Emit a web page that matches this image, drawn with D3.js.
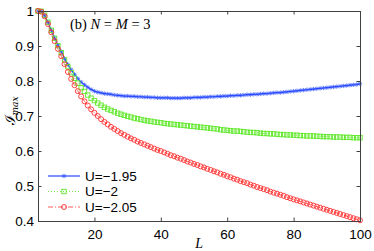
<!DOCTYPE html>
<html>
<head>
<meta charset="utf-8">
<script src="https://cdn.jsdelivr.net/npm/d3@7"></script>
<style>
  html, body { margin: 0; padding: 0; background: #fff; }
  svg { display: block; }
  .tick text { font-family: "Liberation Sans", Arial, sans-serif; font-size: 13.5px; fill: #000; }
</style>
</head>
<body>
<div id="chart"></div>
<script>
// L = 3 .. 100, one point per integer L
const L = d3.range(3, 101);

const u195 = [
  1.000, 0.999, 0.987, 0.968, 0.945, 0.923, 0.903, 0.884,
  0.864, 0.847, 0.832, 0.819, 0.807, 0.797, 0.789, 0.782, 0.776, 0.771,
  0.768, 0.766, 0.764, 0.763, 0.762, 0.760, 0.759, 0.758, 0.757, 0.757,
  0.756, 0.756, 0.755, 0.755, 0.754, 0.754, 0.753, 0.753, 0.752, 0.752,
  0.752, 0.752, 0.751, 0.751, 0.751, 0.751, 0.752, 0.752, 0.752, 0.753,
  0.753, 0.753, 0.754, 0.754, 0.755, 0.755, 0.756, 0.756, 0.757, 0.757,
  0.758, 0.758, 0.759, 0.759, 0.760, 0.761, 0.761, 0.762, 0.762, 0.763,
  0.764, 0.764, 0.765, 0.766, 0.767, 0.767, 0.768, 0.769, 0.770, 0.771,
  0.772, 0.773, 0.774, 0.775, 0.776, 0.777, 0.778, 0.779, 0.780, 0.781,
  0.782, 0.783, 0.784, 0.785, 0.786, 0.787, 0.788, 0.789, 0.790, 0.792
];

const u200 = [
  1.000, 0.999, 0.988, 0.968, 0.945, 0.922, 0.901, 0.881,
  0.860, 0.841, 0.824, 0.808, 0.794, 0.781, 0.770, 0.760, 0.751, 0.744,
  0.737, 0.731, 0.725, 0.720, 0.716, 0.712, 0.708, 0.705, 0.702, 0.699,
  0.697, 0.694, 0.692, 0.690, 0.688, 0.686, 0.685, 0.683, 0.682, 0.681,
  0.679, 0.678, 0.677, 0.676, 0.675, 0.674, 0.673, 0.672, 0.671, 0.670,
  0.669, 0.668, 0.667, 0.666, 0.665, 0.664, 0.663, 0.661, 0.660, 0.659,
  0.658, 0.657, 0.657, 0.656, 0.655, 0.654, 0.653, 0.653, 0.652, 0.651,
  0.650, 0.650, 0.649, 0.649, 0.648, 0.647, 0.647, 0.646, 0.646, 0.645,
  0.645, 0.644, 0.644, 0.643, 0.643, 0.643, 0.642, 0.642, 0.641, 0.641,
  0.641, 0.640, 0.640, 0.640, 0.639, 0.639, 0.639, 0.638, 0.638, 0.638
];

const u205 = [
  1.000, 0.998, 0.985, 0.963, 0.939, 0.914, 0.892, 0.871,
  0.848, 0.826, 0.806, 0.788, 0.771, 0.756, 0.742, 0.730, 0.719, 0.709,
  0.700, 0.691, 0.683, 0.676, 0.669, 0.663, 0.657, 0.651, 0.646, 0.641,
  0.636, 0.632, 0.627, 0.623, 0.619, 0.615, 0.611, 0.607, 0.603, 0.600,
  0.596, 0.592, 0.588, 0.585, 0.581, 0.578, 0.574, 0.570, 0.567, 0.563,
  0.560, 0.556, 0.553, 0.549, 0.546, 0.542, 0.539, 0.535, 0.532, 0.528,
  0.525, 0.521, 0.518, 0.514, 0.511, 0.508, 0.504, 0.501, 0.497, 0.494,
  0.491, 0.488, 0.484, 0.481, 0.478, 0.475, 0.472, 0.468, 0.465, 0.462,
  0.459, 0.456, 0.453, 0.450, 0.447, 0.444, 0.441, 0.438, 0.435, 0.432,
  0.429, 0.426, 0.423, 0.420, 0.417, 0.414, 0.411, 0.408, 0.405, 0.402
];

const xTicks = [20, 40, 60, 80, 100];
const yTicks = [0.4, 0.5, 0.6, 0.7, 0.8, 0.9, 1];
const labels = ['U=\u22121.95', 'U=\u22122', 'U=\u22122.05'];

const width = 374, height = 251;
const margin = { top: 11, right: 14, bottom: 30, left: 38 };

const svg = d3.select('#chart').append('svg')
  .attr('width', width)
  .attr('height', height);

const x = d3.scaleLinear().domain([3, 100]).range([margin.left, width - margin.right]);
const y = d3.scaleLinear().domain([0.4, 1]).range([height - margin.bottom, margin.top]);

const series = [
  { name: labels[0], values: u195, color: '#2a4cff', marker: 'star', dash: null },
  { name: labels[1], values: u200, color: '#5fe82a', marker: 'square', dash: '1,2' },
  { name: labels[2], values: u205, color: '#ff3030', marker: 'circle', dash: '5,2,1,2' }
];

function drawMarker(g, type, color) {
  if (type === 'star') {
    g.append('path')
      .attr('d', 'M-2.2,0H2.2M0,-2.2V2.2M-1.6,-1.6L1.6,1.6M-1.6,1.6L1.6,-1.6')
      .attr('stroke', color).attr('stroke-width', 0.9).attr('opacity', 0.75);
  } else if (type === 'square') {
    g.append('rect')
      .attr('x', -2.2).attr('y', -2.2).attr('width', 4.4).attr('height', 4.4)
      .attr('fill', 'none').attr('stroke', color).attr('stroke-width', 0.9);
  } else {
    g.append('circle')
      .attr('r', 2.5)
      .attr('fill', 'none').attr('stroke', color).attr('stroke-width', 0.9);
  }
}

const line = d3.line()
  .x((d, i) => x(L[i]))
  .y(d => y(d));

const plot = svg.append('g');

series.forEach(s => {
  plot.append('path')
    .datum(s.values)
    .attr('fill', 'none')
    .attr('stroke', s.color)
    .attr('stroke-width', s.marker === 'star' ? 1.2 : 0.8)
    .attr('stroke-dasharray', s.dash)
    .attr('d', line);

  plot.selectAll(null)
    .data(s.values)
    .enter().append('g')
    .attr('transform', (d, i) => `translate(${x(L[i])},${y(d)})`)
    .each(function () { drawMarker(d3.select(this), s.marker, s.color); });
});

// axes, MATLAB style: box with inward ticks on all sides
const axisColor = '#404040';
const tickLen = 3.5;

svg.append('g')
  .attr('transform', `translate(0,${height - margin.bottom})`)
  .call(d3.axisBottom(x).tickValues(xTicks).tickSize(-tickLen).tickPadding(8));
svg.append('g')
  .attr('transform', `translate(${margin.left},0)`)
  .call(d3.axisLeft(y).tickValues(yTicks).tickSize(-tickLen).tickPadding(4)
    .tickFormat(d => d === 1 ? '1' : d3.format('.1f')(d)));
svg.append('g')
  .attr('transform', `translate(0,${margin.top})`)
  .call(d3.axisTop(x).tickValues(xTicks).tickSize(-tickLen).tickFormat(''));
svg.append('g')
  .attr('transform', `translate(${width - margin.right},0)`)
  .call(d3.axisRight(y).tickValues(yTicks).tickSize(-tickLen).tickFormat(''));

svg.selectAll('.domain').attr('stroke', axisColor);
svg.selectAll('.tick line').attr('stroke', axisColor);

// title inside the plot
const title = svg.append('text')
  .attr('x', 70).attr('y', 28.5)
  .attr('font-family', '"Liberation Serif", "Times New Roman", serif')
  .attr('font-size', 14.5);
title.append('tspan').text('(b) ');
title.append('tspan').attr('font-style', 'italic').text('N');
title.append('tspan').text(' = ');
title.append('tspan').attr('font-style', 'italic').text('M');
title.append('tspan').text(' = 3');

// axis labels
svg.append('text')
  .attr('x', x(60) - 28).attr('y', 248)
  .attr('text-anchor', 'middle')
  .attr('font-family', '"Liberation Serif", "Times New Roman", serif')
  .attr('font-style', 'italic')
  .attr('font-size', 14)
  .text('L');

const yl = svg.append('text')
  .attr('transform', 'translate(15,111) rotate(-90)')
  .attr('text-anchor', 'middle')
  .attr('font-family', '"DejaVu Serif", "Liberation Serif", serif')
  .attr('font-size', 14);
yl.append('tspan').text('\u2110');
yl.append('tspan').attr('font-size', 9).attr('font-style', 'italic').attr('dy', 3).text('max');

// legend
const legend = svg.append('g');
const legendY = [176, 191.5, 207];
series.forEach((s, i) => {
  const row = legend.append('g').attr('transform', `translate(0,${legendY[i]})`);
  row.append('line')
    .attr('x1', 48).attr('x2', 80)
    .attr('stroke', s.color)
    .attr('stroke-width', s.marker === 'star' ? 1.2 : 0.8)
    .attr('stroke-dasharray', s.dash);
  drawMarker(row.append('g').attr('transform', 'translate(64,0)'), s.marker, s.color);
  row.append('text')
    .attr('x', 85).attr('dy', '0.35em')
    .attr('font-family', '"Liberation Sans", Arial, sans-serif')
    .attr('font-size', 13.5)
    .text(s.name);
});
</script>
</body>
</html>
